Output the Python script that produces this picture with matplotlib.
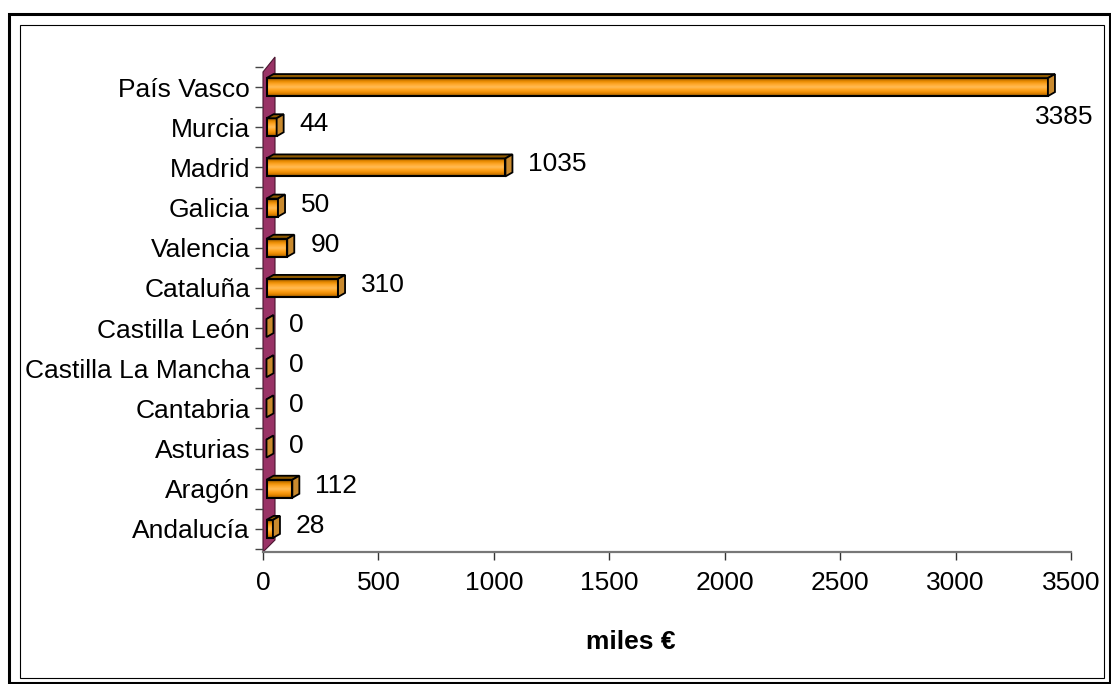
import numpy as np
import matplotlib
matplotlib.use('Agg')
import matplotlib.pyplot as plt
from matplotlib.patches import Polygon, Rectangle
from matplotlib.colors import LinearSegmentedColormap

# data, bottom to top as in the chart
regions = ['Andalucía', 'Aragón', 'Asturias', 'Cantabria', 'Castilla La Mancha',
           'Castilla León', 'Cataluña', 'Valencia', 'Galicia', 'Madrid',
           'Murcia', 'País Vasco']
values = [28, 112, 0, 0, 0, 0, 310, 90, 50, 1035, 44, 3385]
x_ticks = [0, 500, 1000, 1500, 2000, 2500, 3000, 3500]
x_title = 'miles €'

W, H = 1111, 684
plt.rcParams['font.family'] = ['Liberation Sans', 'DejaVu Sans']
fig = plt.figure(figsize=(W / 100, H / 100), dpi=100)

# plot area in pixels (from top-left)
left, right, top, bottom = 263, 1071, 67, 549
ax = fig.add_axes([left / W, (H - bottom) / H, (right - left) / W, (bottom - top) / H])
xmax = x_ticks[-1]
n = len(regions)
sx = xmax / (right - left)      # data units per pixel
sy = n / (bottom - top)

# purple back wall
wall = Polygon([(0, -0.5 - 3 * sy), (0, n - 0.5 - 5 * sy),
                (12 * sx, n - 0.5 + 10 * sy), (12 * sx, -0.5 + 9 * sy)],
               closed=True, facecolor='#993366', edgecolor='#4a1530', lw=0.8,
               zorder=1, clip_on=False)
ax.add_patch(wall)

front_cmap = LinearSegmentedColormap.from_list(
    'front', ['#8a5200', '#e88a00', '#ffa82a', '#ffbb55', '#ffa21c', '#e88800', '#9c5c00'])
grad = np.linspace(0, 1, 64).reshape(-1, 1)

half = 9 * sy     # half height of front face
dx, dy = 7 * sx, 4 * sy
shift = 3.5 * sx

for i, v in enumerate(values):
    x0 = shift
    x1 = v + shift
    yb, yt = i - half, i + half
    # front face with gradient
    rect = Rectangle((x0, yb), max(x1 - x0, 0.5 * sx), yt - yb, facecolor='none',
                     edgecolor='black', lw=1.5, zorder=4)
    ax.add_patch(rect)
    im = ax.imshow(grad, cmap=front_cmap, extent=[x0, x1 + 0.5 * sx, yb, yt],
                   aspect='auto', origin='upper', zorder=3, interpolation='bilinear')
    im.set_clip_path(rect)
    # top face
    ax.add_patch(Polygon([(x0, yt), (x1, yt), (x1 + dx, yt + dy), (x0 + dx, yt + dy)],
                         closed=True, facecolor='#8f5a00', edgecolor='black', lw=1.3, zorder=4))
    # right face
    ax.add_patch(Polygon([(x1, yb), (x1, yt), (x1 + dx, yt + dy), (x1 + dx, yb + dy)],
                         closed=True, facecolor='#c98a2e', edgecolor='black', lw=1.3, zorder=4))
    # value label
    end = x1 + dx
    if end + 60 * sx > xmax:
        ax.text(end + 9 * sx, i - 30 * sy, str(v), ha='center', va='center',
                fontsize=19, zorder=6, clip_on=False)
    else:
        ax.text(end + 16 * sx, i + 3 * sy, str(v), ha='left', va='center',
                fontsize=19, zorder=6)

ax.set_xlim(0, xmax)
ax.set_ylim(-0.5, n - 0.5)
ax.set_xticks(x_ticks)
ax.set_xticklabels([str(t) for t in x_ticks])
ax.set_yticks(range(n))
ax.set_yticklabels(regions)
ax.set_yticks(np.arange(n + 1) - 0.5, minor=True)

for s in ['left', 'top', 'right']:
    ax.spines[s].set_visible(False)
ax.spines['bottom'].set_position(('outward', 2.2))
ax.spines['bottom'].set_color('#777777')
ax.spines['bottom'].set_linewidth(1.6)

ax.tick_params(axis='x', direction='out', length=6, width=1, color='#333333',
               pad=8, labelsize=19)
ax.tick_params(axis='y', which='both', direction='out', length=5.8, width=1,
               color='#444444', pad=3.5, labelsize=19)
ax.patch.set_visible(False)

fig.text(631 / W, 1 - 642 / H, x_title, ha='center', va='center',
         fontsize=19, fontweight='bold')

# chart frames
fig.add_artist(Rectangle((8.5 / W, 1 - 682.5 / H), 1101 / W, 669 / H,
                         transform=fig.transFigure, fill=False, lw=2.2, edgecolor='black'))
fig.add_artist(Rectangle((19.5 / W, 1 - 678 / H), 1084.5 / W, 653.5 / H,
                         transform=fig.transFigure, fill=False, lw=0.8, edgecolor='black'))

fig.savefig('out.png', dpi=100)
